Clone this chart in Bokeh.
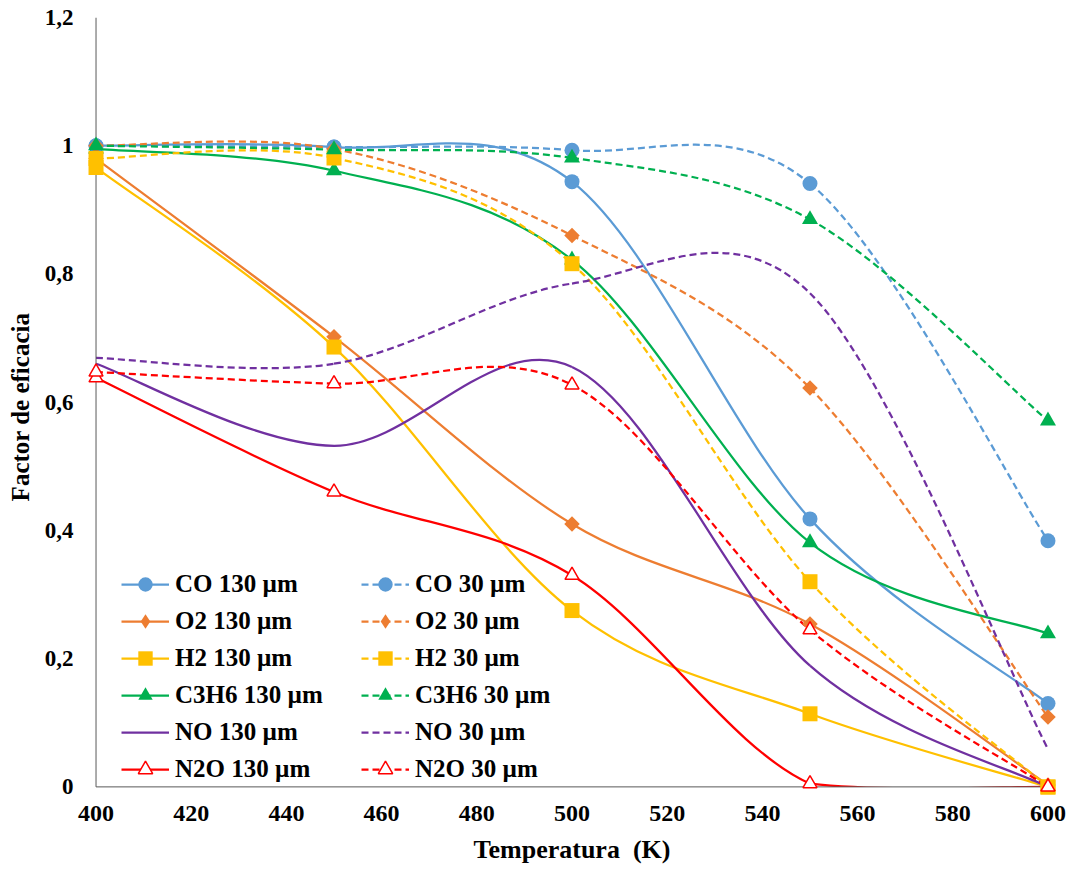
import numpy as np
from bokeh.plotting import figure
from bokeh.models import (Range1d, FixedTicker, CustomJSTickFormatter, Legend,
                          LegendItem, ColumnDataSource)
from bokeh.embed import file_html
from bokeh.resources import INLINE

# ---------------- data ----------------
temps = [400, 450, 500, 550, 600]
x_ticks = [400, 420, 440, 460, 480, 500, 520, 540, 560, 580, 600]
y_ticks = [0, 0.2, 0.4, 0.6, 0.8, 1.0, 1.2]

co_130 = [1.0, 0.998, 0.944, 0.418, 0.13]
co_30 = [1.0, 0.998, 0.993, 0.941, 0.384]
o2_130 = [0.98, 0.702, 0.41, 0.254, 0.003]
o2_30 = [1.0, 0.995, 0.86, 0.622, 0.109]
h2_130 = [0.966, 0.686, 0.275, 0.114, 0.0]
h2_30 = [0.98, 0.981, 0.816, 0.32, 0.0]
c3h6_130 = [0.995, 0.961, 0.822, 0.381, 0.239]
c3h6_30 = [1.0, 0.994, 0.981, 0.885, 0.571]
no_130 = [0.66, 0.532, 0.655, 0.189, 0.0]
no_30 = [0.669, 0.66, 0.785, 0.77, 0.059]
n2o_130 = [0.638, 0.46, 0.33, 0.005, 0.0]
n2o_30 = [0.647, 0.629, 0.627, 0.245, 0.0]

series = [
    ("CO 130 µm", co_130, "#5B9BD5", "circle", "solid", True),
    ("O2 130 µm", o2_130, "#ED7D31", "diamond", "solid", True),
    ("H2 130 µm", h2_130, "#FFC000", "square", "solid", True),
    ("C3H6 130 µm", c3h6_130, "#00B050", "triangle", "solid", True),
    ("NO 130 µm", no_130, "#7030A0", None, "solid", True),
    ("N2O 130 µm", n2o_130, "#FF0000", "triangle", "solid", False),
    ("CO 30 µm", co_30, "#5B9BD5", "circle", "7 4", True),
    ("O2 30 µm", o2_30, "#ED7D31", "diamond", "7 4", True),
    ("H2 30 µm", h2_30, "#FFC000", "square", "7 4", True),
    ("C3H6 30 µm", c3h6_30, "#00B050", "triangle", "7 4", True),
    ("NO 30 µm", no_30, "#7030A0", None, "7 4", True),
    ("N2O 30 µm", n2o_30, "#FF0000", "triangle", "7 4", False),
]

X_MIN, X_MAX = 400, 600
Y_MIN, Y_MAX = 0, 1.2
XR = (398, 602)
YR = (-0.015, 1.2)
FONT = "Liberation Serif"
AXIS_COLOR = "#595959"


def smooth_segments(x, y, t=1.0 / 6.0, ymin=None):
    """Cubic Bezier control points through the data points (Excel-like smoothing)."""
    n = len(x)
    d = dict(x0=[], y0=[], x1=[], y1=[], cx0=[], cy0=[], cx1=[], cy1=[])
    for i in range(n - 1):
        a = max(i - 1, 0)
        b = min(i + 2, n - 1)
        c0 = y[i] + (y[i + 1] - y[a]) * t
        c1 = y[i + 1] - (y[b] - y[i]) * t
        if ymin is not None:
            c0 = max(c0, ymin)
            c1 = max(c1, ymin)
        d["x0"].append(x[i]); d["y0"].append(y[i])
        d["x1"].append(x[i + 1]); d["y1"].append(y[i + 1])
        d["cx0"].append(x[i] + (x[i + 1] - x[a]) * t)
        d["cy0"].append(c0)
        d["cx1"].append(x[i + 1] - (x[b] - x[i]) * t)
        d["cy1"].append(c1)
    return d


def marker_style(marker, color, filled, legend=False):
    kw = dict(marker=marker, line_color=color)
    if marker == "circle":
        kw.update(size=15, fill_color=color, line_width=0)
    elif marker == "diamond":
        if legend:
            kw.update(marker="diamond", size=17, fill_color=color, line_width=0)
        else:
            kw.update(marker="square", angle=np.pi / 4, size=11, fill_color=color, line_width=0)
    elif marker == "square":
        kw.update(size=15, fill_color=color, line_width=0)
    elif marker == "triangle":
        if filled:
            kw.update(size=16, fill_color=color, line_width=0)
        else:
            kw.update(size=14, fill_color="white", line_width=1.5)
    return kw


p = figure(
    frame_width=971, frame_height=779,
    min_border_left=86, min_border_right=14, min_border_top=17, min_border_bottom=75,
    x_range=Range1d(*XR), y_range=Range1d(*YR),
    output_backend="svg", toolbar_location=None,
)
p.xgrid.visible = False
p.ygrid.visible = False
p.outline_line_color = None
p.background_fill_color = "white"

# smoothed curves (kept inside the plotted band)
for label, vals, color, marker, dash, filled in series:
    src = ColumnDataSource(smooth_segments(temps, vals, ymin=YR[0] * 0.6))
    p.bezier(x0="x0", y0="y0", x1="x1", y1="y1", cx0="cx0", cy0="cy0", cx1="cx1", cy1="cy1",
             source=src, line_color=color, line_width=2.25, line_dash=dash)

# plot area ends at y = 0: hide any curve overshoot below it
p.quad(left=[XR[0] - 10], right=[XR[1] + 10], bottom=[YR[0] - 1], top=[Y_MIN],
       fill_color="white", line_color=None)

# axis lines (drawn at the data origin)
p.segment(x0=[X_MIN], y0=[Y_MIN], x1=[X_MIN], y1=[Y_MAX], line_color=AXIS_COLOR, line_width=1)
p.segment(x0=[X_MIN], y0=[Y_MIN], x1=[X_MAX], y1=[Y_MIN], line_color=AXIS_COLOR, line_width=1)

items = []
for label, vals, color, marker, dash, filled in series:
    rends = [p.line(x=[np.nan, np.nan], y=[np.nan, np.nan], line_color=color,
                    line_width=2.25, line_dash=dash)]
    if marker is not None:
        p.scatter(x=temps, y=vals, **marker_style(marker, color, filled))
        rends.append(p.scatter(x=[np.nan], y=[np.nan],
                               **marker_style(marker, color, filled, legend=True)))
    items.append(LegendItem(label=label, renderers=rends))

legend = Legend(items=items, location=(35, 9), orientation="vertical", nrows=6,
                glyph_width=48, glyph_height=36, label_height=36, label_width=185,
                label_standoff=6, spacing=1, padding=0, margin=0,
                border_line_alpha=0, background_fill_alpha=0,
                label_text_font=FONT, label_text_font_style="bold",
                label_text_font_size="25px", label_text_color="black")
p.add_layout(legend, "center")

# axes
p.xaxis.ticker = FixedTicker(ticks=x_ticks)
p.yaxis.ticker = FixedTicker(ticks=y_ticks)
p.yaxis.formatter = CustomJSTickFormatter(
    code="return (Math.round(tick*10)/10).toString().replace('.', ',');")
for ax in (p.xaxis, p.yaxis):
    ax.axis_line_color = None
    ax.major_tick_line_color = None
    ax.minor_tick_line_color = None
    ax.major_tick_out = 0
    ax.major_tick_in = 0
    ax.minor_tick_out = 0
    ax.minor_tick_in = 0
    ax.major_label_text_font = FONT
    ax.major_label_text_font_style = "bold"
    ax.major_label_text_color = "black"
    ax.axis_label_text_font = FONT
    ax.axis_label_text_font_style = "bold"
    ax.axis_label_text_color = "black"
p.xaxis.major_label_text_font_size = "24px"
p.yaxis.major_label_text_font_size = "23px"
p.xaxis.major_label_standoff = 9
p.yaxis.major_label_standoff = 13
p.xaxis.axis_label = "Temperatura\u00a0\u00a0(K)"
p.yaxis.axis_label = "Factor de eficacia"
p.xaxis.axis_label_text_font_size = "26px"
p.yaxis.axis_label_text_font_size = "25px"
p.xaxis.axis_label_standoff = 11
p.yaxis.axis_label_standoff = 8

open("out.html", "w").write(file_html(p, INLINE))
